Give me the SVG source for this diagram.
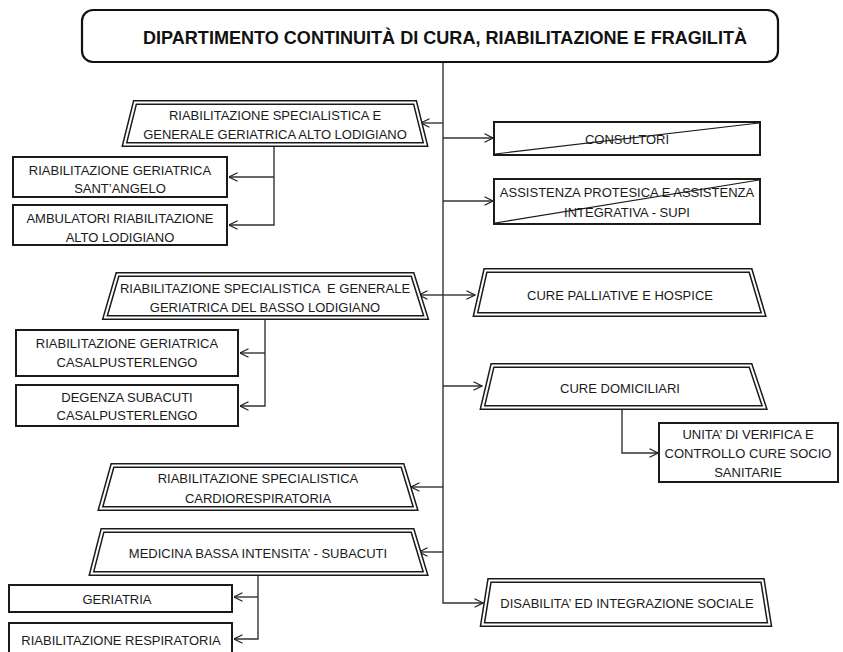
<svg xmlns="http://www.w3.org/2000/svg" width="843" height="652" viewBox="0 0 843 652">
<defs>
<marker id="arr" viewBox="0 0 10 10" refX="9.5" refY="5" markerWidth="10" markerHeight="10" markerUnits="userSpaceOnUse" orient="auto">
<path d="M1,0.8 L9.5,5 L1,9.2" fill="none" stroke="#222" stroke-width="1.2"/>
</marker>
</defs>
<style>
.t{font-family:"Liberation Sans",Arial,sans-serif;font-size:13px;fill:#1a1a1a;text-anchor:middle}
.title{font-family:"Liberation Sans",Arial,sans-serif;font-size:19px;font-weight:bold;fill:#111;text-anchor:middle}
.box{fill:#fff;stroke:#1a1a1a;stroke-width:2}
.trap{fill:#fff;stroke:#1a1a1a;stroke-width:5;stroke-linejoin:miter}
.trapin{fill:none;stroke:#fff;stroke-width:2;stroke-linejoin:miter}
.cross{stroke:#1a1a1a;stroke-width:1.2}
.ca{fill:none;stroke:#333;stroke-width:1.4;marker-end:url(#arr)}
</style>
<rect width="843" height="652" fill="#fff"/>

<g id="connectors">
<path class="ca" d="M443,62 V603 H483"/>
<path class="ca" d="M443,123 H421"/>
<path class="ca" d="M443,138 H493"/>
<path class="ca" d="M443,201 H493"/>
<path class="ca" d="M443,295 H419"/>
<path class="ca" d="M443,295 H475"/>
<path class="ca" d="M443,386 H482"/>
<path class="ca" d="M443,487 H411"/>
<path class="ca" d="M443,552 H419"/>
<path class="ca" d="M274,147 V225 H229"/>
<path class="ca" d="M274,177 H229"/>
<path class="ca" d="M265,320 V406 H240"/>
<path class="ca" d="M265,353 H240"/>
<path class="ca" d="M622,410 V453 H658"/>
<path class="ca" d="M258,576 V639 H234"/>
<path class="ca" d="M258,597 H234"/>
</g>

<g id="title">
<rect x="82" y="10" width="696" height="52" rx="11" ry="11" fill="#fff" stroke="#111" stroke-width="2.2"/>
<text class="title" x="445" y="44" textLength="604" lengthAdjust="spacingAndGlyphs">DIPARTIMENTO CONTINUITÀ DI CURA, RIABILITAZIONE E FRAGILITÀ</text>
</g>

<g id="riab-alto">
<path class="trap" d="M135,102.5 H415 L425.5,144.5 H124.5 Z"/>
<path class="trapin" d="M135,102.5 H415 L425.5,144.5 H124.5 Z"/>
<text class="t" x="275" y="120">RIABILITAZIONE SPECIALISTICA E</text>
<text class="t" x="275" y="139">GENERALE GERIATRICA ALTO LODIGIANO</text>
</g>

<g id="riab-santangelo">
<rect class="box" x="13" y="157" width="214" height="40"/>
<text class="t" x="120" y="175">RIABILITAZIONE GERIATRICA</text>
<text class="t" x="120" y="193">SANT’ANGELO</text>
</g>

<g id="ambulatori">
<rect class="box" x="13" y="205" width="214" height="40"/>
<text class="t" x="120" y="223">AMBULATORI RIABILITAZIONE</text>
<text class="t" x="120" y="242">ALTO LODIGIANO</text>
</g>

<g id="riab-basso">
<path class="trap" d="M117.5,274.5 H412.5 L426,317.5 H105 Z"/>
<path class="trapin" d="M117.5,274.5 H412.5 L426,317.5 H105 Z"/>
<text class="t" x="265" y="293" xml:space="preserve">RIABILITAZIONE SPECIALISTICA  E GENERALE</text>
<text class="t" x="265" y="312">GERIATRICA DEL BASSO LODIGIANO</text>
</g>

<g id="riab-casal">
<rect class="box" x="16" y="330" width="222" height="46"/>
<text class="t" x="127" y="348">RIABILITAZIONE GERIATRICA</text>
<text class="t" x="127" y="367">CASALPUSTERLENGO</text>
</g>

<g id="degenza">
<rect class="box" x="16" y="385" width="222" height="41"/>
<text class="t" x="127" y="402">DEGENZA SUBACUTI</text>
<text class="t" x="127" y="420">CASALPUSTERLENGO</text>
</g>

<g id="consultori">
<rect class="box" x="494" y="122" width="266" height="33"/>
<text class="t" x="627" y="144">CONSULTORI</text>
<line class="cross" x1="495" y1="154" x2="759" y2="123"/>
</g>

<g id="assistenza">
<rect class="box" x="494" y="179" width="266" height="45"/>
<text class="t" x="627" y="197">ASSISTENZA PROTESICA E ASSISTENZA</text>
<text class="t" x="627" y="217">INTEGRATIVA - SUPI</text>
<line class="cross" x1="495" y1="223" x2="759" y2="180"/>
</g>

<g id="cure-palliative">
<path class="trap" d="M485.5,270.5 H750.5 L763.5,314.5 H475.5 Z"/>
<path class="trapin" d="M485.5,270.5 H750.5 L763.5,314.5 H475.5 Z"/>
<text class="t" x="620" y="300">CURE PALLIATIVE E HOSPICE</text>
</g>

<g id="cure-domiciliari">
<path class="trap" d="M492.5,365.5 H750.5 L764.5,407.5 H482.5 Z"/>
<path class="trapin" d="M492.5,365.5 H750.5 L764.5,407.5 H482.5 Z"/>
<text class="t" x="620" y="393">CURE DOMICILIARI</text>
</g>

<g id="unita-verifica">
<rect class="box" x="659" y="423" width="179" height="59"/>
<text class="t" x="748" y="439">UNITA’ DI VERIFICA E</text>
<text class="t" x="748" y="458">CONTROLLO CURE SOCIO</text>
<text class="t" x="748" y="477">SANITARIE</text>
</g>

<g id="riab-cardio">
<path class="trap" d="M112.5,465.5 H402.5 L415.5,508.5 H100.5 Z"/>
<path class="trapin" d="M112.5,465.5 H402.5 L415.5,508.5 H100.5 Z"/>
<text class="t" x="258" y="483">RIABILITAZIONE SPECIALISTICA</text>
<text class="t" x="258" y="503">CARDIORESPIRATORIA</text>
</g>

<g id="medicina">
<path class="trap" d="M102.5,530.5 H412.5 L425.5,573.5 H91.5 Z"/>
<path class="trapin" d="M102.5,530.5 H412.5 L425.5,573.5 H91.5 Z"/>
<text class="t" x="258" y="558">MEDICINA BASSA INTENSITA’ - SUBACUTI</text>
</g>

<g id="geriatria">
<rect class="box" x="9" y="585" width="223" height="27"/>
<text class="t" x="117" y="604">GERIATRIA</text>
</g>

<g id="riab-respiratoria">
<rect class="box" x="9" y="623" width="223" height="40"/>
<text class="t" x="121" y="645">RIABILITAZIONE RESPIRATORIA</text>
</g>

<g id="disabilita">
<path class="trap" d="M489.5,580.5 H762.5 L769.5,624.5 H482.5 Z"/>
<path class="trapin" d="M489.5,580.5 H762.5 L769.5,624.5 H482.5 Z"/>
<text class="t" x="627" y="608">DISABILITA’ ED INTEGRAZIONE SOCIALE</text>
</g>
</svg>
